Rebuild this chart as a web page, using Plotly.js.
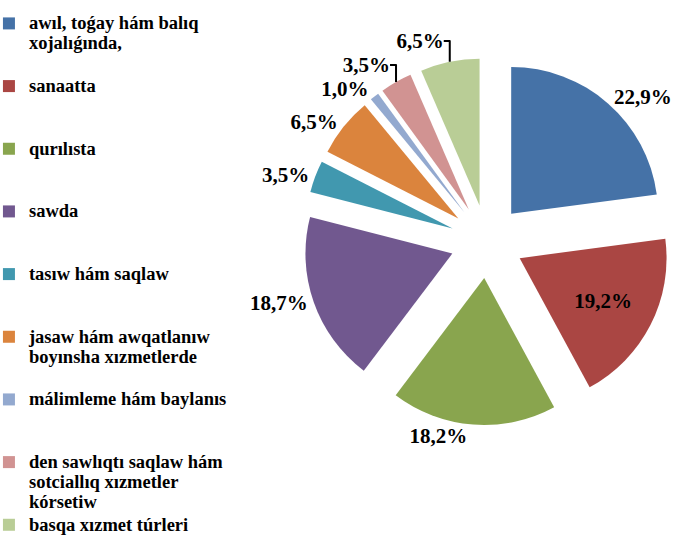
<!DOCTYPE html>
<html>
<head>
<meta charset="utf-8">
<script src="https://cdn.plot.ly/plotly-3.0.1.min.js"></script>
<style>
  html, body { margin: 0; padding: 0; background: #fff; }
  #chart { width: 691px; height: 536px; }
</style>
</head>
<body>
<div id="chart"></div>
<script>
// categories (wrapped the way they are in the legend)
var labels = [
    "awıl, toǵay hám balıq<br>xojalıǵında,",
    "sanaatta",
    "qurılısta",
    "sawda",
    "tasıw hám saqlaw",
    "jasaw hám awqatlanıw<br>boyınsha xızmetlerde",
    "málimleme hám baylanıs",
    "den sawlıqtı saqlaw hám<br>sotciallıq xızmetler<br>kórsetiw",
    "basqa xızmet túrleri"
];

// share of employed, %
var shares = [22.9, 19.2, 18.2, 18.7, 3.5, 6.5, 1.0, 3.5, 6.5];

var colors = ["#4572A7", "#AA4643", "#89A54E", "#71588F", "#4198AF",
              "#DB843D", "#93A9CF", "#D19392", "#B9CD96"];

// pad every legend entry to 3 lines so the items spread down the page,
// glyphs a bit bigger than the line step (tight spacing like the original)
var legendNames = labels.map(function (l, i) {
    var s = l;
    if (i < labels.length - 1) {
        for (var k = l.split("<br>").length; k < 3; k++) s += "<br>&nbsp;";
    }
    return '<span style="font-size:18.5px">' + s + "</span>";
});

// the red slice label sits on the slice, the rest outside
var textPos = shares.map(function (v, i) { return i == 1 ? "inside" : "outside"; });

var trace = {
    type: "pie",
    labels: legendNames,
    values: shares,
    sort: false,
    direction: "clockwise",
    rotation: 0,
    pull: 0.25,
    marker: {colors: colors, line: {width: 0}},
    texttemplate: "%{value:.1f}%",
    textposition: textPos,
    insidetextorientation: "horizontal",
    textfont: {family: "Liberation Serif", size: 21, color: "#000", weight: "bold"},
    insidetextfont: {family: "Liberation Serif", size: 21, color: "#000", weight: "bold"},
    hoverinfo: "label+percent",
    domain: {x: [0.4385, 0.971], y: [0.207, 0.892]}
};

var layout = {
    width: 691,
    height: 536,
    margin: {l: 0, r: 0, t: 0, b: 0, autoexpand: false},
    separators: ", ",
    paper_bgcolor: "#fff",
    showlegend: true,
    legend: {
        x: -0.016, xanchor: "left",
        y: 0.987, yanchor: "top",
        valign: "top",
        traceorder: "normal",
        font: {family: "Liberation Serif", size: 15.3, color: "#000", weight: "bold"}
    }
};

Plotly.newPlot("chart", [trace], layout, {displayModeBar: false});
</script>
</body>
</html>
